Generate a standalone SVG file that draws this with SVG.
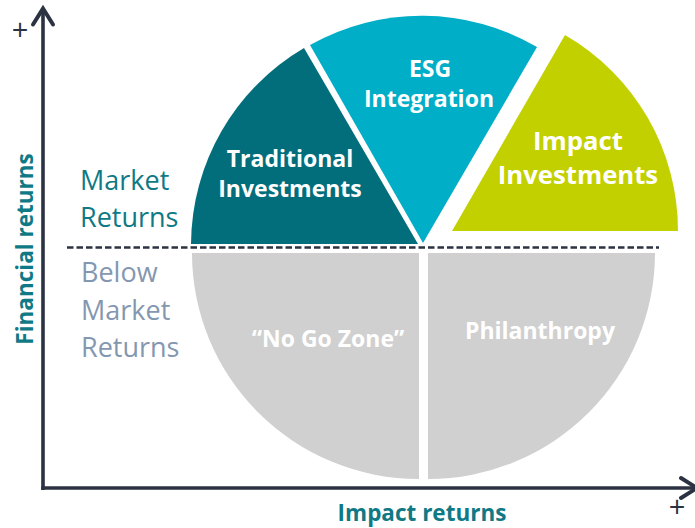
<svg xmlns="http://www.w3.org/2000/svg" width="695" height="528" viewBox="0 0 695 528">
<style>
  .lbl { font-family: "Open Sans", "Liberation Sans", sans-serif; font-weight: bold; fill: #ffffff; text-anchor: middle; font-size: 23px; }
  .side { font-family: "Open Sans", "Liberation Sans", sans-serif; font-size: 27px; }
  .mkt { fill: #0f7985; }
  .below { fill: #8497b0; }
  .axis-title { font-family: "Open Sans", "Liberation Sans", sans-serif; font-weight: bold; font-size: 22.5px; fill: #0f7985; text-anchor: middle; }
  .plus { font-family: "Open Sans", "Liberation Sans", sans-serif; font-size: 29px; fill: #2b3241; text-anchor: middle; }
  .axis { stroke: #2b3241; stroke-width: 3.6; fill: none; marker-end: url(#chev); }
  .gray { fill: #d0d0d0; }
</style>
<defs>
  <marker id="chev" markerUnits="userSpaceOnUse" viewBox="-22 -14 28 28" markerWidth="28" markerHeight="28" refX="0" refY="0" orient="auto" overflow="visible">
    <path d="M -16 -10 L 0 0 L -16 10" fill="none" stroke="#2b3241" stroke-width="4" stroke-linejoin="miter" stroke-linecap="round"/>
  </marker>
</defs>
<rect width="695" height="528" fill="#ffffff"/>

<g id="traditional">
  <path d="M 191 244 A 229 229 0 0 1 304 48 L 418 244 Z" fill="#036e7b"/>
  <text class="lbl" x="290" y="167">Traditional</text>
  <text class="lbl" x="290" y="197">Investments</text>
</g>
<g id="esg">
  <path d="M 423 243 L 310 45 A 228 228 0 0 1 537 47 Z" fill="#00aec7"/>
  <text class="lbl" x="430" y="77">ESG</text>
  <text class="lbl" x="429" y="107">Integration</text>
</g>
<g id="impact">
  <path d="M 452 231 L 565 35 A 226 226 0 0 1 678 231 Z" fill="#c3d000"/>
  <text class="lbl" x="578" y="150" style="font-size:25.7px">Impact</text>
  <text class="lbl" x="578" y="184" style="font-size:25.7px">Investments</text>
</g>
<g id="nogo">
  <path class="gray" d="M 192 253 L 419 253 L 419 479 A 227 226 0 0 1 192 253 Z"/>
  <text class="lbl" x="328" y="347">“No Go Zone”</text>
</g>
<g id="philanthropy">
  <path class="gray" d="M 428 253 L 655 253 A 227 226 0 0 1 428 479 Z"/>
  <text class="lbl" x="540" y="339">Philanthropy</text>
</g>

<g id="connectors">
  <line x1="67" y1="247.5" x2="659" y2="247.5" stroke="#2b3241" stroke-width="2.4" stroke-dasharray="6.5 3"/>
  <line class="axis" x1="43" y1="490" x2="43" y2="8.5"/>
  <line class="axis" x1="41.2" y1="488" x2="697" y2="488"/>
</g>

<g id="labels">
  <text class="plus" x="20" y="40">+</text>
  <text class="plus" x="677" y="517">+</text>
  <text class="axis-title" transform="translate(33,249) rotate(-90)">Financial returns</text>
  <text class="axis-title" x="422" y="521">Impact returns</text>
  <text class="side mkt" x="80" y="190">Market</text>
  <text class="side mkt" x="80" y="227">Returns</text>
  <text class="side below" x="81" y="282">Below</text>
  <text class="side below" x="81" y="320">Market</text>
  <text class="side below" x="81" y="357">Returns</text>
</g>
</svg>
